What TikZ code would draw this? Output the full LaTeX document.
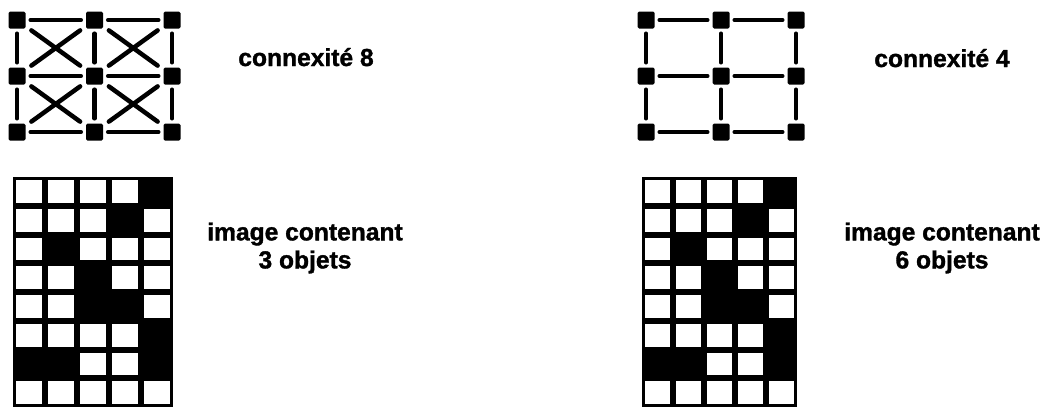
\documentclass[tikz,border=0pt]{standalone}
\usepackage{fontspec}
\setmainfont{Liberation Sans}
\newfontfamily\capfont{Liberation Sans Bold}[FakeBold=1.4]
\begin{document}
\begin{tikzpicture}[
    x=1pt, y=-1pt,
    vertex/.style={fill=black, rounded corners=1.5pt, minimum size=17pt, inner sep=0pt},
    link/.style={line width=4.5pt, line cap=round, shorten <=5pt, shorten >=5pt},
    cross/.style={link, shorten <=7pt, shorten >=7pt},
    caption/.style={font=\fontsize{24.6}{28}\capfont, align=center, inner sep=0pt}
]
\useasboundingbox (0,0) rectangle (1049,408);

% the two neighbourhood graphs
\foreach \g/\gx/\gd in {8/17/77.5, 4/646/75}
  \foreach \i in {0,1,2}
    \foreach \j in {0,1,2}
      \node[vertex] (v\g-\i\j) at (\gx+\i*\gd, 20+\j*56) {};

\foreach \g in {8,4}
  \foreach \i/\k in {0/1,1/2}
    \foreach \j in {0,1,2} {
      \draw[link] (v\g-\i\j) -- (v\g-\k\j);
      \draw[link] (v\g-\j\i) -- (v\g-\j\k);
    }

% diagonals only for 8-connexity
\foreach \i/\k in {0/1,1/2}
  \foreach \j/\m in {0/1,1/2} {
    \draw[cross] (v8-\i\j) -- (v8-\k\m);
    \draw[cross] (v8-\k\j) -- (v8-\i\m);
  }

\node[caption, anchor=base] (lab8) at (306,66) {connexité 8};
\node[caption, anchor=base] (lab4) at (942,67) {connexité 4};

% binary images
\foreach \gx/\gw in {13/32, 642/31} {
  \fill (\gx,177) rectangle ++(5*\gw,230);
  \foreach \r/\cols in {1/{1,2,3,4}, 2/{1,2,3,5}, 3/{1,3,4,5}, 4/{1,2,4,5},
                        5/{1,2,5}, 6/{1,2,3,4}, 7/{3,4}, 8/{1,2,3,4,5}}
    \foreach \c in \cols
      \fill[white] (\gx+\c*\gw-\gw+3.25, 177+\r*28.75-28.75+3) rectangle ++(\gw-6.5,22.75);
}

\node[caption] (obj3) at (305,248) {image contenant\\3 objets};
\node[caption] (obj6) at (942,248) {image contenant\\6 objets};
\end{tikzpicture}
\end{document}
